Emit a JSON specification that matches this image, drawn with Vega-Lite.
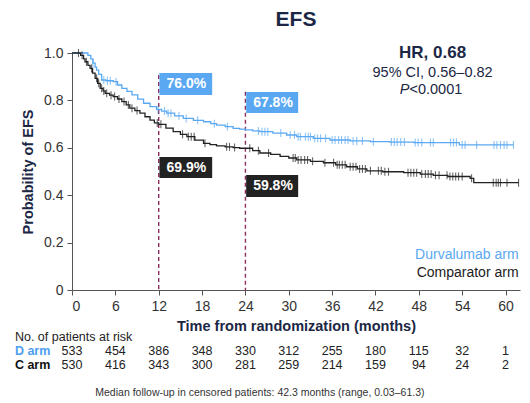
{
  "$schema": "https://vega.github.io/schema/vega-lite/v6.json",
  "width": 448,
  "height": 237,
  "autosize": "none",
  "padding": {"left": 72, "top": 53, "right": 10, "bottom": 113},
  "background": "white",
  "title": {
    "text": "EFS",
    "font": "Liberation Sans",
    "fontSize": 21,
    "fontWeight": "bold",
    "color": "#1b2745",
    "anchor": "middle",
    "offset": 14
  },
  "config": {
    "font": "Liberation Sans",
    "view": {"stroke": null},
    "axis": {
      "grid": false,
      "domainColor": "#555555",
      "tickColor": "#555555",
      "labelColor": "#333333",
      "labelFont": "Liberation Sans",
      "labelFontSize": 14,
      "titleFont": "Liberation Sans",
      "titleFontSize": 14.5,
      "titleFontWeight": "bold",
      "titleColor": "#1b2745",
      "tickSize": 5
    }
  },
  "datasets": {
    "km": [
      {"arm": "D", "t": 0, "s": 1, "c": 0},
      {"arm": "D", "t": 1.8, "s": 1, "c": 0},
      {"arm": "D", "t": 2.2, "s": 0.99, "c": 0},
      {"arm": "D", "t": 2.6, "s": 0.975, "c": 0},
      {"arm": "D", "t": 2.9, "s": 0.957, "c": 1},
      {"arm": "D", "t": 3.2, "s": 0.94, "c": 0},
      {"arm": "D", "t": 3.4, "s": 0.928, "c": 0},
      {"arm": "D", "t": 3.7, "s": 0.91, "c": 0},
      {"arm": "D", "t": 4.1, "s": 0.886, "c": 0},
      {"arm": "D", "t": 4.4, "s": 0.886, "c": 1},
      {"arm": "D", "t": 4.7, "s": 0.883, "c": 0},
      {"arm": "D", "t": 4.9, "s": 0.883, "c": 1},
      {"arm": "D", "t": 5.3, "s": 0.883, "c": 1},
      {"arm": "D", "t": 5.7, "s": 0.879, "c": 0},
      {"arm": "D", "t": 6.1, "s": 0.879, "c": 1},
      {"arm": "D", "t": 6.3, "s": 0.865, "c": 0},
      {"arm": "D", "t": 6.9, "s": 0.851, "c": 0},
      {"arm": "D", "t": 7.6, "s": 0.838, "c": 0},
      {"arm": "D", "t": 8.3, "s": 0.823, "c": 0},
      {"arm": "D", "t": 9.1, "s": 0.805, "c": 0},
      {"arm": "D", "t": 9.9, "s": 0.788, "c": 0},
      {"arm": "D", "t": 10.8, "s": 0.774, "c": 0},
      {"arm": "D", "t": 11.7, "s": 0.762, "c": 0},
      {"arm": "D", "t": 11.9, "s": 0.762, "c": 1},
      {"arm": "D", "t": 12.4, "s": 0.755, "c": 0},
      {"arm": "D", "t": 12.8, "s": 0.755, "c": 1},
      {"arm": "D", "t": 13.1, "s": 0.746, "c": 0},
      {"arm": "D", "t": 13.3, "s": 0.746, "c": 1},
      {"arm": "D", "t": 13.7, "s": 0.746, "c": 1},
      {"arm": "D", "t": 14.2, "s": 0.735, "c": 0},
      {"arm": "D", "t": 14.8, "s": 0.735, "c": 1},
      {"arm": "D", "t": 15.4, "s": 0.724, "c": 0},
      {"arm": "D", "t": 15.8, "s": 0.724, "c": 1},
      {"arm": "D", "t": 16.8, "s": 0.716, "c": 0},
      {"arm": "D", "t": 17.4, "s": 0.716, "c": 1},
      {"arm": "D", "t": 18.2, "s": 0.71, "c": 0},
      {"arm": "D", "t": 19.2, "s": 0.702, "c": 0},
      {"arm": "D", "t": 19.7, "s": 0.702, "c": 1},
      {"arm": "D", "t": 20, "s": 0.696, "c": 0},
      {"arm": "D", "t": 21.2, "s": 0.689, "c": 0},
      {"arm": "D", "t": 21.5, "s": 0.689, "c": 1},
      {"arm": "D", "t": 22.3, "s": 0.682, "c": 0},
      {"arm": "D", "t": 23.2, "s": 0.679, "c": 0},
      {"arm": "D", "t": 24, "s": 0.676, "c": 0},
      {"arm": "D", "t": 25, "s": 0.671, "c": 0},
      {"arm": "D", "t": 25.8, "s": 0.671, "c": 1},
      {"arm": "D", "t": 26, "s": 0.668, "c": 0},
      {"arm": "D", "t": 26.3, "s": 0.668, "c": 1},
      {"arm": "D", "t": 26.7, "s": 0.668, "c": 1},
      {"arm": "D", "t": 27.1, "s": 0.668, "c": 1},
      {"arm": "D", "t": 27.8, "s": 0.662, "c": 0},
      {"arm": "D", "t": 28.9, "s": 0.662, "c": 1},
      {"arm": "D", "t": 29.7, "s": 0.654, "c": 0},
      {"arm": "D", "t": 30.2, "s": 0.654, "c": 1},
      {"arm": "D", "t": 30.8, "s": 0.654, "c": 1},
      {"arm": "D", "t": 31.1, "s": 0.647, "c": 0},
      {"arm": "D", "t": 31.3, "s": 0.647, "c": 1},
      {"arm": "D", "t": 31.6, "s": 0.647, "c": 1},
      {"arm": "D", "t": 32.3, "s": 0.647, "c": 1},
      {"arm": "D", "t": 32.7, "s": 0.647, "c": 1},
      {"arm": "D", "t": 33.0, "s": 0.647, "c": 1},
      {"arm": "D", "t": 33.4, "s": 0.64, "c": 0},
      {"arm": "D", "t": 33.6, "s": 0.64, "c": 1},
      {"arm": "D", "t": 34.0, "s": 0.64, "c": 1},
      {"arm": "D", "t": 34.4, "s": 0.64, "c": 1},
      {"arm": "D", "t": 35.1, "s": 0.64, "c": 1},
      {"arm": "D", "t": 35.7, "s": 0.633, "c": 0},
      {"arm": "D", "t": 36.0, "s": 0.633, "c": 1},
      {"arm": "D", "t": 36.4, "s": 0.633, "c": 1},
      {"arm": "D", "t": 36.9, "s": 0.633, "c": 1},
      {"arm": "D", "t": 37.3, "s": 0.633, "c": 1},
      {"arm": "D", "t": 37.8, "s": 0.633, "c": 1},
      {"arm": "D", "t": 38.2, "s": 0.633, "c": 1},
      {"arm": "D", "t": 38.5, "s": 0.629, "c": 0},
      {"arm": "D", "t": 38.9, "s": 0.629, "c": 1},
      {"arm": "D", "t": 39.4, "s": 0.629, "c": 1},
      {"arm": "D", "t": 40.2, "s": 0.629, "c": 1},
      {"arm": "D", "t": 41.3, "s": 0.626, "c": 0},
      {"arm": "D", "t": 41.7, "s": 0.626, "c": 1},
      {"arm": "D", "t": 44, "s": 0.624, "c": 0},
      {"arm": "D", "t": 44.2, "s": 0.624, "c": 1},
      {"arm": "D", "t": 44.6, "s": 0.624, "c": 1},
      {"arm": "D", "t": 45.0, "s": 0.624, "c": 1},
      {"arm": "D", "t": 45.5, "s": 0.624, "c": 1},
      {"arm": "D", "t": 46.0, "s": 0.624, "c": 1},
      {"arm": "D", "t": 47.3, "s": 0.622, "c": 0},
      {"arm": "D", "t": 47.5, "s": 0.622, "c": 1},
      {"arm": "D", "t": 47.9, "s": 0.622, "c": 1},
      {"arm": "D", "t": 48.4, "s": 0.622, "c": 1},
      {"arm": "D", "t": 49.6, "s": 0.622, "c": 1},
      {"arm": "D", "t": 50.0, "s": 0.622, "c": 1},
      {"arm": "D", "t": 52.4, "s": 0.622, "c": 1},
      {"arm": "D", "t": 52.8, "s": 0.622, "c": 1},
      {"arm": "D", "t": 53.2, "s": 0.622, "c": 1},
      {"arm": "D", "t": 53.6, "s": 0.612, "c": 0},
      {"arm": "D", "t": 54.0, "s": 0.612, "c": 1},
      {"arm": "D", "t": 54.4, "s": 0.612, "c": 1},
      {"arm": "D", "t": 56.0, "s": 0.612, "c": 1},
      {"arm": "D", "t": 58.4, "s": 0.612, "c": 1},
      {"arm": "D", "t": 58.8, "s": 0.612, "c": 1},
      {"arm": "D", "t": 59.3, "s": 0.612, "c": 1},
      {"arm": "D", "t": 59.8, "s": 0.612, "c": 1},
      {"arm": "D", "t": 60.2, "s": 0.612, "c": 1},
      {"arm": "D", "t": 61.1, "s": 0.612, "c": 1},
      {"arm": "C", "t": 0, "s": 1, "c": 0},
      {"arm": "C", "t": 0.9, "s": 1, "c": 1},
      {"arm": "C", "t": 1.2, "s": 0.99, "c": 0},
      {"arm": "C", "t": 1.4, "s": 0.99, "c": 1},
      {"arm": "C", "t": 1.6, "s": 0.975, "c": 0},
      {"arm": "C", "t": 1.8, "s": 0.963, "c": 0},
      {"arm": "C", "t": 2.0, "s": 0.963, "c": 1},
      {"arm": "C", "t": 2.2, "s": 0.948, "c": 0},
      {"arm": "C", "t": 2.5, "s": 0.935, "c": 0},
      {"arm": "C", "t": 2.7, "s": 0.935, "c": 1},
      {"arm": "C", "t": 2.85, "s": 0.915, "c": 0},
      {"arm": "C", "t": 3.2, "s": 0.893, "c": 0},
      {"arm": "C", "t": 3.4, "s": 0.893, "c": 1},
      {"arm": "C", "t": 3.55, "s": 0.872, "c": 0},
      {"arm": "C", "t": 3.7, "s": 0.872, "c": 1},
      {"arm": "C", "t": 3.9, "s": 0.851, "c": 0},
      {"arm": "C", "t": 4.1, "s": 0.851, "c": 1},
      {"arm": "C", "t": 4.3, "s": 0.84, "c": 0},
      {"arm": "C", "t": 4.4, "s": 0.84, "c": 1},
      {"arm": "C", "t": 4.6, "s": 0.83, "c": 0},
      {"arm": "C", "t": 4.8, "s": 0.83, "c": 1},
      {"arm": "C", "t": 5.2, "s": 0.822, "c": 0},
      {"arm": "C", "t": 5.4, "s": 0.822, "c": 1},
      {"arm": "C", "t": 5.7, "s": 0.816, "c": 0},
      {"arm": "C", "t": 5.9, "s": 0.816, "c": 1},
      {"arm": "C", "t": 6.3, "s": 0.806, "c": 0},
      {"arm": "C", "t": 6.5, "s": 0.806, "c": 1},
      {"arm": "C", "t": 6.9, "s": 0.795, "c": 0},
      {"arm": "C", "t": 7.2, "s": 0.795, "c": 1},
      {"arm": "C", "t": 7.5, "s": 0.781, "c": 0},
      {"arm": "C", "t": 7.8, "s": 0.781, "c": 1},
      {"arm": "C", "t": 8.0, "s": 0.767, "c": 0},
      {"arm": "C", "t": 8.3, "s": 0.767, "c": 1},
      {"arm": "C", "t": 8.7, "s": 0.757, "c": 0},
      {"arm": "C", "t": 9.0, "s": 0.757, "c": 1},
      {"arm": "C", "t": 9.4, "s": 0.746, "c": 0},
      {"arm": "C", "t": 10.1, "s": 0.731, "c": 0},
      {"arm": "C", "t": 10.8, "s": 0.717, "c": 0},
      {"arm": "C", "t": 11.4, "s": 0.705, "c": 0},
      {"arm": "C", "t": 11.8, "s": 0.705, "c": 1},
      {"arm": "C", "t": 12.0, "s": 0.699, "c": 0},
      {"arm": "C", "t": 12.3, "s": 0.699, "c": 1},
      {"arm": "C", "t": 13, "s": 0.683, "c": 0},
      {"arm": "C", "t": 14, "s": 0.668, "c": 0},
      {"arm": "C", "t": 15, "s": 0.657, "c": 0},
      {"arm": "C", "t": 15.3, "s": 0.657, "c": 1},
      {"arm": "C", "t": 15.9, "s": 0.647, "c": 0},
      {"arm": "C", "t": 16.1, "s": 0.647, "c": 1},
      {"arm": "C", "t": 16.5, "s": 0.647, "c": 1},
      {"arm": "C", "t": 16.9, "s": 0.647, "c": 1},
      {"arm": "C", "t": 17, "s": 0.632, "c": 0},
      {"arm": "C", "t": 18.2, "s": 0.619, "c": 0},
      {"arm": "C", "t": 18.4, "s": 0.619, "c": 1},
      {"arm": "C", "t": 19.1, "s": 0.613, "c": 0},
      {"arm": "C", "t": 20, "s": 0.608, "c": 0},
      {"arm": "C", "t": 21.2, "s": 0.604, "c": 0},
      {"arm": "C", "t": 21.4, "s": 0.604, "c": 1},
      {"arm": "C", "t": 21.8, "s": 0.604, "c": 1},
      {"arm": "C", "t": 22.3, "s": 0.601, "c": 0},
      {"arm": "C", "t": 22.5, "s": 0.601, "c": 1},
      {"arm": "C", "t": 23.2, "s": 0.598, "c": 0},
      {"arm": "C", "t": 24.6, "s": 0.598, "c": 1},
      {"arm": "C", "t": 25, "s": 0.588, "c": 0},
      {"arm": "C", "t": 25.8, "s": 0.588, "c": 1},
      {"arm": "C", "t": 26, "s": 0.578, "c": 0},
      {"arm": "C", "t": 27.2, "s": 0.578, "c": 1},
      {"arm": "C", "t": 27.5, "s": 0.572, "c": 0},
      {"arm": "C", "t": 28.8, "s": 0.564, "c": 0},
      {"arm": "C", "t": 30, "s": 0.557, "c": 0},
      {"arm": "C", "t": 30.6, "s": 0.557, "c": 1},
      {"arm": "C", "t": 30.9, "s": 0.557, "c": 1},
      {"arm": "C", "t": 31.1, "s": 0.549, "c": 0},
      {"arm": "C", "t": 31.3, "s": 0.549, "c": 1},
      {"arm": "C", "t": 31.7, "s": 0.549, "c": 1},
      {"arm": "C", "t": 32.2, "s": 0.549, "c": 1},
      {"arm": "C", "t": 32.6, "s": 0.549, "c": 1},
      {"arm": "C", "t": 33, "s": 0.543, "c": 0},
      {"arm": "C", "t": 33.3, "s": 0.543, "c": 1},
      {"arm": "C", "t": 34.8, "s": 0.537, "c": 0},
      {"arm": "C", "t": 35.0, "s": 0.537, "c": 1},
      {"arm": "C", "t": 36.2, "s": 0.537, "c": 1},
      {"arm": "C", "t": 36.5, "s": 0.528, "c": 0},
      {"arm": "C", "t": 36.7, "s": 0.528, "c": 1},
      {"arm": "C", "t": 37.0, "s": 0.528, "c": 1},
      {"arm": "C", "t": 37.4, "s": 0.528, "c": 1},
      {"arm": "C", "t": 37.8, "s": 0.528, "c": 1},
      {"arm": "C", "t": 38, "s": 0.52, "c": 0},
      {"arm": "C", "t": 38.5, "s": 0.52, "c": 1},
      {"arm": "C", "t": 38.9, "s": 0.52, "c": 1},
      {"arm": "C", "t": 39.3, "s": 0.52, "c": 1},
      {"arm": "C", "t": 39.5, "s": 0.511, "c": 0},
      {"arm": "C", "t": 39.8, "s": 0.511, "c": 1},
      {"arm": "C", "t": 40.2, "s": 0.511, "c": 1},
      {"arm": "C", "t": 40.6, "s": 0.511, "c": 1},
      {"arm": "C", "t": 40.8, "s": 0.503, "c": 0},
      {"arm": "C", "t": 41.3, "s": 0.503, "c": 1},
      {"arm": "C", "t": 42.4, "s": 0.503, "c": 1},
      {"arm": "C", "t": 42.8, "s": 0.503, "c": 1},
      {"arm": "C", "t": 43, "s": 0.499, "c": 0},
      {"arm": "C", "t": 43.3, "s": 0.499, "c": 1},
      {"arm": "C", "t": 43.8, "s": 0.499, "c": 1},
      {"arm": "C", "t": 45.9, "s": 0.495, "c": 0},
      {"arm": "C", "t": 46.5, "s": 0.495, "c": 1},
      {"arm": "C", "t": 46.9, "s": 0.495, "c": 1},
      {"arm": "C", "t": 47.3, "s": 0.495, "c": 1},
      {"arm": "C", "t": 47.7, "s": 0.495, "c": 1},
      {"arm": "C", "t": 48.2, "s": 0.489, "c": 0},
      {"arm": "C", "t": 48.4, "s": 0.489, "c": 1},
      {"arm": "C", "t": 48.9, "s": 0.489, "c": 1},
      {"arm": "C", "t": 49.3, "s": 0.489, "c": 1},
      {"arm": "C", "t": 49.7, "s": 0.489, "c": 1},
      {"arm": "C", "t": 50, "s": 0.484, "c": 0},
      {"arm": "C", "t": 50.3, "s": 0.484, "c": 1},
      {"arm": "C", "t": 50.8, "s": 0.484, "c": 1},
      {"arm": "C", "t": 51.9, "s": 0.484, "c": 1},
      {"arm": "C", "t": 52, "s": 0.479, "c": 0},
      {"arm": "C", "t": 52.3, "s": 0.479, "c": 1},
      {"arm": "C", "t": 52.7, "s": 0.479, "c": 1},
      {"arm": "C", "t": 53.1, "s": 0.479, "c": 1},
      {"arm": "C", "t": 53.5, "s": 0.479, "c": 1},
      {"arm": "C", "t": 54.0, "s": 0.479, "c": 1},
      {"arm": "C", "t": 55.1, "s": 0.471, "c": 0},
      {"arm": "C", "t": 55.3, "s": 0.471, "c": 1},
      {"arm": "C", "t": 55.6, "s": 0.453, "c": 0},
      {"arm": "C", "t": 58.3, "s": 0.453, "c": 1},
      {"arm": "C", "t": 58.7, "s": 0.453, "c": 1},
      {"arm": "C", "t": 59.0, "s": 0.453, "c": 1},
      {"arm": "C", "t": 59.3, "s": 0.453, "c": 1},
      {"arm": "C", "t": 60.2, "s": 0.453, "c": 1},
      {"arm": "C", "t": 61.8, "s": 0.453, "c": 1}
    ],
    "landmarks": [
      {"t": 12, "top": 0.907},
      {"t": 24, "top": 0.837}
    ],
    "boxes": [
      {"arm": "D", "t0": 12.1, "t1": 19.4, "s0": 0.823, "s1": 0.916, "label": "76.0%"},
      {"arm": "D", "t0": 24.1, "t1": 31.3, "s0": 0.747, "s1": 0.835, "label": "67.8%"},
      {"arm": "C", "t0": 12.1, "t1": 19.4, "s0": 0.473, "s1": 0.561, "label": "69.9%"},
      {"arm": "C", "t0": 24.1, "t1": 31.3, "s0": 0.392, "s1": 0.485, "label": "59.8%"}
    ],
    "legend": [
      {"arm": "D", "label": "Durvalumab arm", "s": 0.148},
      {"arm": "C", "label": "Comparator arm", "s": 0.072}
    ],
    "risk": [
      {"row": "D arm", "t": 0, "n": "533"},
      {"row": "D arm", "t": 6, "n": "454"},
      {"row": "D arm", "t": 12, "n": "386"},
      {"row": "D arm", "t": 18, "n": "348"},
      {"row": "D arm", "t": 24, "n": "330"},
      {"row": "D arm", "t": 30, "n": "312"},
      {"row": "D arm", "t": 36, "n": "255"},
      {"row": "D arm", "t": 42, "n": "180"},
      {"row": "D arm", "t": 48, "n": "115"},
      {"row": "D arm", "t": 54, "n": "32"},
      {"row": "D arm", "t": 60, "n": "1"},
      {"row": "C arm", "t": 0, "n": "530"},
      {"row": "C arm", "t": 6, "n": "416"},
      {"row": "C arm", "t": 12, "n": "343"},
      {"row": "C arm", "t": 18, "n": "300"},
      {"row": "C arm", "t": 24, "n": "281"},
      {"row": "C arm", "t": 30, "n": "259"},
      {"row": "C arm", "t": 36, "n": "214"},
      {"row": "C arm", "t": 42, "n": "159"},
      {"row": "C arm", "t": 48, "n": "94"},
      {"row": "C arm", "t": 54, "n": "24"},
      {"row": "C arm", "t": 60, "n": "2"}
    ],
    "rowlabels": [
      {"row": "head", "label": "No. of patients at risk"},
      {"row": "D arm", "label": "D arm"},
      {"row": "C arm", "label": "C arm"},
      {"row": "foot", "label": "Median follow-up in censored patients: 42.3 months (range, 0.03–61.3)"}
    ]
  },
  "layer": [
    {
      "layer": [
        {
          "data": {"name": "landmarks"},
          "mark": {"type": "rule", "color": "#8b2e62", "strokeDash": [4, 3], "strokeWidth": 1.4},
          "encoding": {
            "x": {
              "field": "t",
              "type": "quantitative",
              "scale": {"domain": [0, 62], "nice": false},
              "title": "Time from randomization (months)",
              "axis": {
                "values": [0, 3, 6, 9, 12, 15, 18, 21, 24, 27, 30, 33, 36, 39, 42, 45, 48, 51, 54, 57, 60, 62],
                "labelExpr": "datum.value % 6 == 0 ? datum.label : ''",
                "labelPadding": 4,
                "titlePadding": 6
              }
            },
            "y": {
              "field": "top",
              "type": "quantitative",
              "scale": {"domain": [0, 1], "nice": false},
              "title": "Probability of EFS",
              "axis": {
                "values": [0, 0.2, 0.4, 0.6, 0.8, 1],
                "labelExpr": "datum.value == 0 ? '0' : format(datum.value, '.1f')",
                "labelPadding": 4,
                "titlePadding": 8
              }
            },
            "y2": {"datum": 0}
          }
        },
        {
          "data": {"name": "km"},
          "mark": {"type": "line", "interpolate": "step-after", "strokeWidth": 1.3},
          "encoding": {
            "x": {"field": "t", "type": "quantitative", "title": "Time from randomization (months)"},
            "y": {"field": "s", "type": "quantitative", "title": "Probability of EFS"},
            "color": {
              "field": "arm",
              "type": "nominal",
              "scale": {"domain": ["D", "C"], "range": ["#5aa8f2", "#222222"]},
              "legend": null
            }
          }
        },
        {
          "data": {"name": "km"},
          "transform": [{"filter": "datum.c == 1"}],
          "mark": {"type": "tick", "orient": "vertical", "size": 8, "thickness": 1.1},
          "encoding": {
            "x": {"field": "t", "type": "quantitative", "title": "Time from randomization (months)"},
            "y": {"field": "s", "type": "quantitative", "title": "Probability of EFS"},
            "color": {"field": "arm", "type": "nominal", "legend": null}
          }
        },
        {
          "data": {"name": "boxes"},
          "mark": {"type": "rect"},
          "encoding": {
            "x": {"field": "t0", "type": "quantitative", "title": "Time from randomization (months)"},
            "x2": {"field": "t1"},
            "y": {"field": "s0", "type": "quantitative", "title": "Probability of EFS"},
            "y2": {"field": "s1"},
            "color": {"field": "arm", "type": "nominal", "legend": null}
          }
        },
        {
          "data": {"name": "boxes"},
          "mark": {"type": "text", "align": "left", "baseline": "top", "dx": 7, "dy": 4, "font": "Liberation Sans", "fontSize": 14, "fontWeight": "bold", "color": "white"},
          "encoding": {
            "x": {"field": "t0", "type": "quantitative", "title": "Time from randomization (months)"},
            "y": {"field": "s1", "type": "quantitative", "title": "Probability of EFS"},
            "text": {"field": "label"}
          }
        },
        {
          "data": {"name": "legend"},
          "mark": {"type": "text", "align": "right", "baseline": "middle", "font": "Liberation Sans", "fontSize": 14},
          "encoding": {
            "x": {"datum": 61.8, "type": "quantitative"},
            "y": {"field": "s", "type": "quantitative", "title": "Probability of EFS"},
            "text": {"field": "label"},
            "color": {"field": "arm", "type": "nominal", "legend": null}
          }
        },
        {
          "data": {"values": [{"text": "HR, 0.68"}]},
          "mark": {"type": "text", "align": "center", "baseline": "middle", "font": "Liberation Sans", "fontSize": 17, "fontWeight": "bold", "color": "#1b2745"},
          "encoding": {
            "x": {"datum": 49.9, "type": "quantitative"},
            "y": {"datum": 1.0, "type": "quantitative"},
            "text": {"field": "text"}
          }
        },
        {
          "data": {"values": [{"text": "95% CI, 0.56–0.82"}]},
          "mark": {"type": "text", "align": "center", "baseline": "middle", "font": "Liberation Sans", "fontSize": 14.5, "color": "#1b2745"},
          "encoding": {
            "x": {"datum": 49.9, "type": "quantitative"},
            "y": {"datum": 0.916, "type": "quantitative"},
            "text": {"field": "text"}
          }
        },
        {
          "data": {"values": [{"text": "P"}]},
          "mark": {"type": "text", "align": "right", "baseline": "middle", "font": "Liberation Sans", "fontSize": 14.5, "fontStyle": "italic", "color": "#1b2745"},
          "encoding": {
            "x": {"datum": 46.7, "type": "quantitative"},
            "y": {"datum": 0.844, "type": "quantitative"},
            "text": {"field": "text"}
          }
        },
        {
          "data": {"values": [{"text": "<0.0001"}]},
          "mark": {"type": "text", "align": "left", "baseline": "middle", "font": "Liberation Sans", "fontSize": 14.5, "color": "#1b2745"},
          "encoding": {
            "x": {"datum": 46.7, "type": "quantitative"},
            "y": {"datum": 0.844, "type": "quantitative"},
            "text": {"field": "text"}
          }
        }
      ]
    },
    {
      "layer": [
        {
          "data": {"name": "risk"},
          "mark": {"type": "text", "align": "center", "baseline": "middle", "font": "Liberation Sans", "fontSize": 12.5, "color": "#222222"},
          "encoding": {
            "x": {"field": "t", "type": "quantitative", "title": "Time from randomization (months)"},
            "y": {
              "field": "row",
              "type": "nominal",
              "scale": {"type": "point", "domain": ["head", "D arm", "C arm", "gap", "foot"], "range": [284, 340], "padding": 0},
              "axis": null
            },
            "text": {"field": "n"}
          }
        },
        {
          "data": {"name": "rowlabels"},
          "transform": [{"filter": "datum.row == 'head'"}],
          "mark": {"type": "text", "align": "left", "baseline": "middle", "font": "Liberation Sans", "fontSize": 12.5, "color": "#222222"},
          "encoding": {
            "x": {"datum": -7.9, "type": "quantitative"},
            "y": {"field": "row", "type": "nominal", "axis": null},
            "text": {"field": "label"}
          }
        },
        {
          "data": {"name": "rowlabels"},
          "transform": [{"filter": "datum.row == 'D arm' || datum.row == 'C arm'"}],
          "mark": {"type": "text", "align": "left", "baseline": "middle", "font": "Liberation Sans", "fontSize": 12.5, "fontWeight": "bold"},
          "encoding": {
            "x": {"datum": -7.9, "type": "quantitative"},
            "y": {"field": "row", "type": "nominal", "axis": null},
            "text": {"field": "label"},
            "color": {"condition": {"test": "datum.row == 'D arm'", "value": "#4f9ef0"}, "value": "#111111"}
          }
        },
        {
          "data": {"name": "rowlabels"},
          "transform": [{"filter": "datum.row == 'foot'"}],
          "mark": {"type": "text", "align": "center", "baseline": "middle", "font": "Liberation Sans", "fontSize": 10.5, "color": "#333333"},
          "encoding": {
            "x": {"datum": 26, "type": "quantitative"},
            "y": {"field": "row", "type": "nominal", "axis": null},
            "text": {"field": "label"}
          }
        }
      ]
    }
  ],
  "resolve": {"scale": {"y": "independent"}}
}
